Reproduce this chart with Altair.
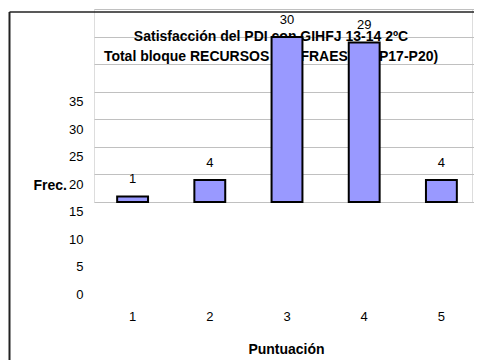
import altair as alt
import pandas as pd

# ---- data ----
scores = ["1", "2", "3", "4", "5"]
freq = [1, 4, 30, 29, 4]
y_ticks = [0, 5, 10, 15, 20, 25, 30, 35]
title_line1 = "Satisfacción del  PDI con GIHFJ 13-14 2ºC"
title_line2 = "Total bloque RECURSOS E INFRAESTR. (P17-P20)"

FONT = "Liberation Sans"

df = pd.DataFrame({"score": scores, "freq": freq})

x_enc = alt.X(
    "score:N",
    sort=scores,
    scale=alt.Scale(paddingInner=0.6, paddingOuter=0.3, range=[0, 386]),
    axis=alt.Axis(
        labelAngle=0, labelPadding=108, ticks=False, domain=False, grid=False,
        labelFont=FONT, labelFontSize=13, labelColor="#000000",
        title="Puntuación", titleFont=FONT, titleFontSize=14, titleFontWeight="bold",
        titleColor="#000000", titleBaseline="alphabetic", titleY=151, titleX=192,
    ),
)
y_enc = alt.Y(
    "freq:Q",
    scale=alt.Scale(domain=[0, 35.09], nice=False, zero=True),
    axis=alt.Axis(
        values=y_ticks, labelOffset=92.5, labelPadding=11, ticks=False, domain=False,
        grid=True, gridColor="#c0c0c0", gridWidth=1, labelOverlap=False,
        labelFont=FONT, labelFontSize=13, labelColor="#000000", labelBaseline="middle",
        title="Frec.", titleAngle=0, titleAlign="right", titleBaseline="alphabetic",
        titleX=-27.5, titleY=180.5, titleFont=FONT, titleFontSize=14,
        titleFontWeight="bold", titleColor="#000000",
    ),
)

one = pd.DataFrame({"a": [0]})

title1 = alt.Chart(pd.DataFrame({"t": [title_line1]})).mark_text(
    font=FONT, fontSize=14, fontWeight="bold", color="#000000",
    align="center", baseline="alphabetic",
).encode(text="t:N", x=alt.value(177), y=alt.value(31.5))

title2 = alt.Chart(pd.DataFrame({"t": [title_line2]})).mark_text(
    font=FONT, fontSize=14, fontWeight="bold", color="#000000",
    align="center", baseline="alphabetic",
).encode(text="t:N", x=alt.value(177), y=alt.value(51.5))

bars = alt.Chart(df).mark_bar(
    fill="#9999ff", stroke="#000000", strokeWidth=2
).encode(x=x_enc, y=y_enc)

labels = alt.Chart(df).mark_text(
    font=FONT, fontSize=13, color="#000000", baseline="middle", dy=-17
).encode(x=x_enc, y=y_enc, text="freq:Q")

frame_left = alt.Chart(one).mark_rule(color="#222222", strokeWidth=2).encode(
    x=alt.value(-84.5), y=alt.value(3), y2=alt.value(400)
)
frame_top = alt.Chart(one).mark_rule(color="#222222", strokeWidth=1.5).encode(
    x=alt.value(-84.5), x2=alt.value(400), y=alt.value(3)
)

chart = (
    alt.layer(title1, title2, bars, labels, frame_left, frame_top)
    .properties(
        width=378, height=193,
        autosize=alt.AutoSizeParams(type="none"),
        padding={"left": 86, "top": 1, "right": 2, "bottom": 158},
    )
    .configure_view(stroke="#808080", strokeWidth=2)
    .configure(background="white")
)

chart.save("out.html", embed_options={"renderer": "svg", "actions": False})
